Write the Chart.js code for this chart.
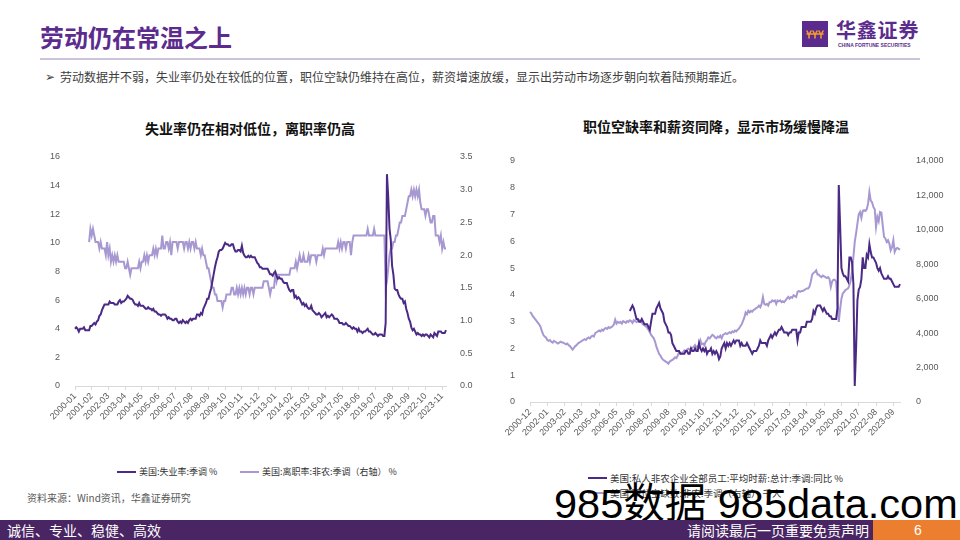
<!DOCTYPE html>
<html><head><meta charset="utf-8">
<script src="https://cdn.jsdelivr.net/npm/chart.js@4/dist/chart.umd.min.js"></script>
<style>
html,body{margin:0;padding:0;}
body{width:960px;height:540px;position:relative;background:#fff;overflow:hidden;font-family:"Noto Sans CJK SC","Noto Sans",sans-serif;}
.abs{position:absolute;white-space:nowrap;}
canvas{display:block;}
</style></head><body>

<!-- header -->
<div class="abs" style="left:40px;top:20px;font-size:24px;line-height:34px;font-weight:700;color:#5b2c8e;">劳动仍在常温之上</div>
<div class="abs" style="left:40px;top:58px;width:880px;height:2px;background:#cbc3da;"></div>
<div class="abs" style="left:802px;top:21px;width:26px;height:26px;background:#5b2c8e;">
  <svg width="26" height="26" viewBox="0 0 26 26"><g stroke="#f29a2e" stroke-width="1.6" fill="none" stroke-linecap="round">
  <path d="M5 10 L7 14 L9 10 M7 14 L7 17"/><path d="M11 10 L13 14 L15 10 M13 14 L13 17"/><path d="M17 10 L19 14 L21 10 M19 14 L19 17"/><path d="M5 13 L21 13"/></g></svg>
</div>
<div class="abs" style="left:836px;top:17px;font-size:20px;line-height:26px;font-weight:700;color:#5b2c8e;letter-spacing:0.8px;">华鑫证券</div>
<div class="abs" style="left:838px;top:42px;font-family:'Liberation Sans',Arial,sans-serif;font-size:5px;line-height:6px;font-weight:700;color:#5b2c8e;">CHINA FORTUNE SECURITIES</div>

<div class="abs" style="left:45px;top:69px;font-size:12px;line-height:16px;color:#404040;font-family:'DejaVu Sans',sans-serif;">➢</div>
<div class="abs" style="left:60px;top:69px;font-size:12px;line-height:16px;color:#404040;">劳动数据并不弱，失业率仍处在较低的位置，职位空缺仍维持在高位，薪资增速放缓，显示出劳动市场逐步朝向软着陆预期靠近。</div>

<!-- chart titles -->
<div class="abs" style="left:145px;top:119px;font-size:14px;line-height:18px;font-weight:700;color:#111;">失业率仍在相对低位，离职率仍高</div>
<div class="abs" style="left:583px;top:117px;font-size:14px;line-height:18px;font-weight:700;color:#111;">职位空缺率和薪资同降，显示市场缓慢降温</div>

<!-- charts -->
<div class="abs" style="left:30px;top:140px;"><canvas id="c1" width="450" height="300"></canvas></div>
<div class="abs" style="left:480px;top:140px;"><canvas id="c2" width="480" height="310"></canvas></div>

<!-- legends -->
<div class="abs" style="left:117px;top:471px;width:19px;height:2px;background:#4b2a85;"></div>
<div class="abs" style="left:139px;top:466px;font-size:9px;line-height:12px;color:#333;">美国:失业率:季调 %</div>
<div class="abs" style="left:240px;top:471px;width:19px;height:2px;background:#a898d2;"></div>
<div class="abs" style="left:262px;top:466px;font-size:9px;line-height:12px;color:#333;">美国:离职率:非农:季调（右轴） %</div>

<div class="abs" style="left:588px;top:477px;width:19px;height:2px;background:#4b2a85;"></div>
<div class="abs" style="left:610px;top:472px;font-size:9.5px;line-height:12px;color:#333;">美国:私人非农企业全部员工:平均时薪:总计:季调:同比 %</div>
<div class="abs" style="left:588px;top:492px;width:19px;height:2px;background:#a898d2;"></div>
<div class="abs" style="left:610px;top:487px;font-size:9.5px;line-height:12px;color:#333;">美国:职位空缺数:非农:季调（右轴） 千人</div>

<!-- source -->
<div class="abs" style="left:27px;top:491px;font-size:10px;line-height:14px;color:#595959;">资料来源：Wind资讯，华鑫证券研究</div>

<!-- watermark -->
<div class="abs" style="left:554px;top:483px;font-size:41.5px;line-height:41px;color:#000;font-family:'Liberation Sans','Noto Sans CJK SC',sans-serif;">985数据 985data.com</div>

<!-- footer -->
<div class="abs" style="left:0;top:520px;width:873px;height:20px;background:#4a2564;"></div>
<div class="abs" style="left:873px;top:520px;width:87px;height:20px;background:#ec7f2f;"></div>
<div class="abs" style="left:7px;top:520px;font-size:14px;line-height:20px;color:#fff;">诚信、专业、稳健、高效</div>
<div class="abs" style="left:687px;top:520px;font-size:14px;line-height:20px;color:#fff;">请阅读最后一页重要免责声明</div>
<div class="abs" style="left:914px;top:520px;font-size:14px;line-height:20px;color:#fff;font-family:'Liberation Sans',sans-serif;">6</div>

<script>
// ---------- data ----------
// left chart: monthly, 2000-01 .. 2024-02
const leftStart = [2000, 1];
const unemployment = [
4.0,4.1,4.0,3.8,4.0,4.0,4.0,4.1,3.9,3.9,3.9,3.9,
4.2,4.2,4.3,4.4,4.3,4.5,4.6,4.9,5.0,5.3,5.5,5.7,
5.7,5.7,5.7,5.9,5.8,5.8,5.8,5.7,5.7,5.7,5.9,6.0,
5.8,5.9,5.9,6.0,6.1,6.3,6.2,6.1,6.1,6.0,5.8,5.7,
5.7,5.6,5.8,5.6,5.6,5.6,5.5,5.4,5.4,5.5,5.4,5.4,
5.3,5.4,5.2,5.2,5.1,5.0,5.0,4.9,5.0,5.0,5.0,4.9,
4.7,4.8,4.7,4.7,4.6,4.6,4.7,4.7,4.5,4.4,4.5,4.4,
4.6,4.5,4.4,4.5,4.4,4.6,4.7,4.6,4.7,4.7,4.7,5.0,
5.0,4.9,5.1,5.0,5.4,5.6,5.8,6.1,6.1,6.5,6.8,7.3,
7.8,8.3,8.7,9.0,9.4,9.5,9.5,9.6,9.8,10.0,9.9,9.9,
9.8,9.8,9.9,9.9,9.6,9.4,9.4,9.5,9.5,9.4,9.8,9.3,
9.1,9.0,9.0,9.1,9.0,9.1,9.0,9.0,9.0,8.8,8.6,8.5,
8.3,8.3,8.2,8.2,8.2,8.2,8.2,8.0,7.8,7.8,7.7,7.9,
8.0,7.7,7.5,7.6,7.5,7.5,7.3,7.2,7.2,7.2,6.9,6.7,
6.6,6.7,6.7,6.2,6.3,6.1,6.2,6.1,5.9,5.7,5.8,5.6,
5.7,5.5,5.4,5.4,5.6,5.3,5.2,5.1,5.0,5.0,5.1,5.0,
4.8,4.9,5.0,5.1,4.8,4.9,4.8,4.9,5.0,4.9,4.7,4.7,
4.7,4.6,4.4,4.4,4.4,4.3,4.3,4.4,4.3,4.2,4.2,4.1,
4.0,4.1,4.0,4.0,3.8,4.0,3.8,3.8,3.7,3.8,3.8,3.9,
4.0,3.8,3.8,3.7,3.6,3.6,3.7,3.6,3.5,3.6,3.6,3.6,
3.5,3.5,4.4,14.8,13.2,11.0,10.2,8.4,7.8,6.8,6.7,6.7,
6.4,6.2,6.1,6.1,5.8,5.9,5.4,5.1,4.7,4.5,4.1,3.9,
4.0,3.8,3.6,3.7,3.6,3.6,3.5,3.6,3.5,3.6,3.6,3.5,
3.4,3.6,3.5,3.4,3.7,3.6,3.5,3.8,3.8,3.8,3.7,3.7,
3.7,3.9];
// quits rate, starts 2000-12 (index 11)
const quitsLead = 11;
const quitsRate = [
2.2,
2.4,2.3,2.4,2.3,2.2,2.2,2.2,2.1,2.2,2.1,2.1,2.1,
2.0,2.2,2.0,2.1,1.9,2.0,1.9,2.0,1.9,2.0,1.9,1.9,
1.9,1.9,1.9,1.8,1.8,1.9,1.8,1.7,1.8,1.8,1.8,1.8,
1.8,1.8,1.9,1.8,1.9,1.9,2.0,1.9,2.0,1.9,2.0,2.0,
2.0,2.1,2.0,2.1,2.0,2.1,2.1,2.1,2.3,2.1,2.1,2.2,
2.2,2.1,2.2,2.0,2.2,2.2,2.2,2.2,2.1,2.2,2.2,2.2,
2.2,2.1,2.2,2.2,2.1,2.2,2.1,2.2,2.2,2.1,2.2,2.1,
2.1,2.1,2.0,2.1,2.0,2.0,1.9,1.8,1.8,1.7,1.6,1.5,
1.5,1.4,1.4,1.3,1.3,1.3,1.3,1.2,1.3,1.3,1.4,1.4,
1.4,1.4,1.5,1.5,1.4,1.4,1.5,1.4,1.5,1.4,1.5,1.4,
1.5,1.4,1.5,1.5,1.4,1.5,1.5,1.4,1.5,1.5,1.5,1.5,
1.5,1.5,1.5,1.6,1.6,1.6,1.6,1.5,1.4,1.5,1.5,1.5,
1.7,1.6,1.7,1.7,1.7,1.7,1.7,1.7,1.7,1.7,1.7,1.7,
1.8,1.8,1.8,1.8,1.9,1.8,1.9,2.0,1.9,1.9,2.0,1.9,
1.9,1.9,2.0,1.9,2.0,2.0,2.0,2.0,1.9,2.0,2.0,2.0,
2.0,2.1,2.0,2.1,2.1,2.1,2.1,2.1,2.1,2.1,2.1,2.1,
2.1,2.2,2.1,2.2,2.1,2.2,2.2,2.1,2.2,2.2,2.2,2.0,
2.2,2.3,2.3,2.3,2.3,2.3,2.3,2.3,2.3,2.3,2.3,2.3,
2.4,2.3,2.3,2.3,2.3,2.4,2.3,2.3,2.3,2.3,2.3,2.3,
2.3,2.3,1.5,1.6,1.8,2.0,2.1,2.1,2.2,2.2,2.3,2.3,
2.4,2.5,2.5,2.6,2.6,2.6,2.7,2.8,2.9,2.9,3.0,2.9,
3.0,2.9,3.0,2.9,3.0,2.8,2.7,2.7,2.7,2.6,2.7,2.7,
2.6,2.5,2.5,2.6,2.6,2.3,2.3,2.3,2.2,2.3,2.1,2.2,
2.1,2.1];
const leftYTicks = {min:0, max:16, step:2};
const leftY1Ticks = {min:0, max:3.5, step:0.5};

// right chart: monthly, 2000-12 .. 2024-02
const rightStart = [2000, 12];
const jobOpenings = [
5230,
5150,5000,4900,4800,4700,4600,4500,4350,4100,3900,3800,3750,
3600,3550,3600,3500,3450,3550,3500,3450,3400,3450,3500,3450,
3450,3400,3350,3400,3300,3250,3150,3050,3150,3250,3300,3400,
3450,3500,3550,3600,3650,3600,3700,3750,3700,3800,3850,3800,
4000,4050,4100,4150,4100,4200,4150,4250,4300,4250,4350,4300,
4350,4400,4500,4780,4550,4650,4600,4650,4550,4700,4650,4600,
4700,4650,4750,4700,4600,4750,4700,4650,4700,4750,4700,4600,
4500,4450,4400,4300,4200,4050,3900,3800,3700,3500,3200,3000,
2800,2700,2550,2450,2400,2350,2300,2230,2350,2400,2450,2500,
2600,2550,2700,2900,2800,2850,2900,3000,2950,3050,3100,3050,
3100,3150,3200,3300,3150,3250,3300,3580,3350,3400,3300,3500,
3600,3750,3700,3800,3900,3850,3750,3700,3800,3750,3850,3700,
3900,3950,4000,3950,4000,4050,4000,4100,4050,4150,4100,4200,
4260,4400,4500,4700,4900,5200,5100,5300,5200,5300,5250,5350,
5400,5450,5500,5600,5500,5700,6100,5700,5650,5700,5600,5800,
5800,5900,5850,5900,5700,5900,5850,5900,5800,5850,5800,5900,
6000,6100,6000,6100,6050,6200,6150,6100,6400,6450,6400,6450,
6450,6500,6550,6600,6600,6700,7000,7400,7500,7550,7650,7400,
7400,7300,7250,7350,7300,7250,7200,7250,7150,6680,7000,7100,
7100,7000,5900,4650,5400,6000,6300,6400,6500,6550,6600,6780,
7070,7600,8430,9300,9800,10360,10900,11040,10700,11100,11140,11100,
11200,11520,12200,11700,11600,11330,11200,10170,10750,10500,11040,11000,
10270,9590,9500,9300,9400,9200,8810,9000,9400,8720,8900,8950,
8900,8850];
// average hourly earnings YoY, starts 2007-03 (index 75)
const wageLead = 75;
const wageYoY = [
3.4,3.5,3.6,3.5,3.3,3.1,3.1,3.0,3.0,3.1,
3.0,2.9,2.9,2.9,2.8,2.7,3.0,3.3,3.3,3.3,3.5,3.6,
3.7,3.5,3.4,3.3,3.0,2.9,2.8,2.6,2.6,2.5,2.2,2.1,
2.0,1.9,1.9,1.9,1.8,1.8,1.8,1.8,1.9,1.9,1.8,1.8,
2.0,1.9,1.9,2.0,1.9,1.9,2.2,2.0,1.9,2.0,1.9,2.0,
1.8,1.9,1.9,2.0,1.8,1.9,1.8,1.9,1.8,1.6,1.7,2.0,
2.1,2.2,2.0,2.2,2.1,2.2,2.1,2.2,2.3,2.2,2.3,2.3,
2.3,2.1,2.2,2.1,2.1,2.1,2.2,2.1,2.0,1.9,1.8,1.9,
1.9,1.9,2.0,2.1,2.3,2.2,2.2,2.2,2.2,2.1,2.3,2.4,
2.5,2.4,2.5,2.6,2.5,2.6,2.7,2.7,2.8,2.7,2.6,2.6,
2.6,2.5,2.6,2.6,2.7,2.7,2.7,2.7,2.3,2.6,2.6,2.8,
2.8,2.8,2.8,3.0,3.0,3.0,3.0,3.1,3.4,3.3,3.5,3.6,
3.6,3.6,3.5,3.4,3.5,3.4,3.3,3.3,3.2,3.2,3.1,3.1,
3.1,3.1,3.5,8.1,6.6,5.0,4.8,4.7,4.7,4.6,4.5,5.4,
5.4,5.2,4.4,0.6,2.0,3.8,4.2,4.3,4.6,5.4,5.0,5.0,
5.5,5.4,5.9,5.6,5.4,5.4,5.3,5.2,5.0,4.9,5.0,4.8,
4.7,4.6,4.6,4.6,4.7,4.6,4.6,4.5,4.4,4.3,4.3,4.3,
4.3,4.4];
const rightYTicks = {min:0, max:9, step:1};
const rightY1Ticks = {min:0, max:14000, step:2000};
const labelEvery = 13;

// ---------- helpers ----------
function monthLabels(start, n){
  const out = []; let y = start[0], m = start[1];
  for (let i = 0; i < n; i++){
    out.push(y + '-' + String(m).padStart(2,'0'));
    m++; if (m > 12){ m = 1; y++; }
  }
  return out;
}
function lead(n, arr){ return new Array(n).fill(null).concat(arr); }

const DARK = '#4b2a85', LIGHT = '#a898d2';
Chart.defaults.font.family = "'Liberation Sans', Arial, sans-serif";
Chart.defaults.font.size = 9;
Chart.defaults.color = '#595959';

function makeChart(id, labels, dsA, dsB, yT, y1T, geo, y1fmt){
  return new Chart(document.getElementById(id), {
    type:'line',
    data:{labels, datasets:[
      {data:dsA, yAxisID:'y', borderColor:DARK, borderWidth:2, pointRadius:0, tension:0, fill:false},
      {data:dsB, yAxisID:'y1', borderColor:LIGHT, borderWidth:2, pointRadius:0, tension:0, fill:false}
    ]},
    options:{
      responsive:false, animation:false, devicePixelRatio:1,
      layout:{padding:{top:geo.top, left:0, right:0, bottom:0}},
      plugins:{legend:{display:false}, tooltip:{enabled:false}},
      scales:{
        x:{
          type:'category',
          afterBuildTicks: s => { s.ticks = s.ticks.filter(t => t.value % labelEvery === 0); },
          afterFit: s => { s.height = geo.xH; },
          grid:{display:true, drawOnChartArea:false, drawTicks:true, tickLength:4, color:'#d9d9d9'},
          border:{display:true, color:'#d9d9d9', width:1},
          ticks:{autoSkip:false, maxRotation:45, minRotation:45, padding:1, color:'#595959', font:{size:9}}
        },
        y:{
          position:'left', min:yT.min, max:yT.max,
          afterFit: s => { s.width = geo.yW; },
          grid:{display:false}, border:{display:false},
          ticks:{stepSize:yT.step, padding:geo.yPad, color:'#595959', font:{size:9}}
        },
        y1:{
          position:'right', min:y1T.min, max:y1T.max,
          afterFit: s => { s.width = geo.y1W; },
          grid:{display:false}, border:{display:false},
          ticks:{stepSize:y1T.step, padding:geo.y1Pad, color:'#595959', font:{size:9}, callback:y1fmt}
        }
      }
    }
  });
}

const leftLabels = monthLabels(leftStart, unemployment.length);
makeChart('c1', leftLabels, unemployment, lead(quitsLead, quitsRate),
  leftYTicks, leftY1Ticks, {top:17, xH:54, yW:45, y1W:34, yPad:7, y1Pad:6},
  v => Number(v).toFixed(1));

const rightLabels = monthLabels(rightStart, jobOpenings.length);
makeChart('c2', rightLabels, lead(wageLead, wageYoY), jobOpenings,
  rightYTicks, rightY1Ticks, {top:21, xH:48, yW:50, y1W:60, yPad:7, y1Pad:8},
  v => Number(v).toLocaleString('en-US'));
</script>
</body></html>
